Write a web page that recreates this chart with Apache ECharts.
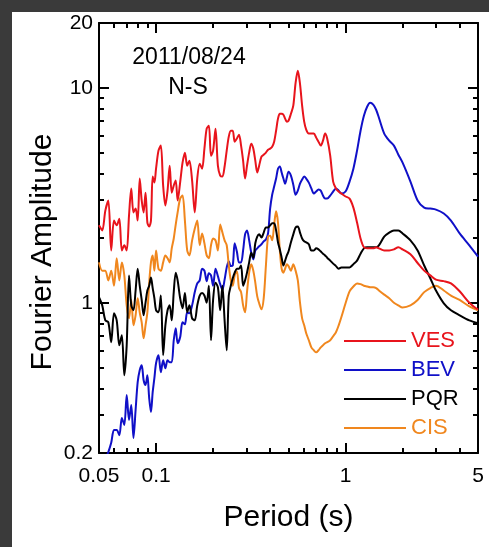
<!DOCTYPE html>
<html>
<head>
<meta charset="utf-8">
<script src="https://cdn.jsdelivr.net/npm/echarts@6/dist/echarts.min.js"></script>
<style>
  html, body { margin: 0; padding: 0; background: #3a3a3a; width: 489px; height: 547px; overflow: hidden; }
  #chart { position: absolute; left: 12px; top: 12px; width: 477px; height: 535px; background: #ffffff; }
</style>
</head>
<body>
<div id="chart"></div>
<script>
// Fourier amplitude spectra, 2011/08/24 event, N-S component
const periods = [
  0.050, 0.052, 0.054, 0.056, 0.058, 0.060, 0.062, 0.064, 0.066, 0.068,
  0.070, 0.072, 0.074, 0.076, 0.078, 0.080, 0.082, 0.084, 0.086, 0.088,
  0.090, 0.092, 0.094, 0.096, 0.098,
  0.100, 0.103, 0.106, 0.109, 0.112, 0.115, 0.118, 0.121, 0.124, 0.127,
  0.130, 0.134, 0.138, 0.142, 0.146, 0.150,
  0.155, 0.160, 0.165, 0.170, 0.175, 0.180, 0.185, 0.190, 0.195,
  0.200, 0.206, 0.212, 0.218, 0.224, 0.230, 0.236, 0.242, 0.248, 0.254,
  0.260, 0.267, 0.274, 0.281, 0.288, 0.295, 0.302, 0.310, 0.318, 0.326,
  0.334, 0.342, 0.350, 0.360, 0.370, 0.380, 0.390, 0.400, 0.410, 0.420,
  0.430, 0.440, 0.450, 0.460, 0.470, 0.480, 0.490, 0.500,
  0.515, 0.530, 0.545, 0.560, 0.575, 0.590, 0.605, 0.620,
  0.640, 0.660, 0.680, 0.700, 0.720, 0.740, 0.760, 0.780, 0.800,
  0.830, 0.860, 0.890, 0.920, 0.950,
  1.00, 1.05, 1.10, 1.15, 1.20, 1.25, 1.30, 1.35, 1.40, 1.45, 1.50,
  1.60, 1.70, 1.80, 1.90, 2.00,
  2.20, 2.40, 2.60, 2.80, 3.00, 3.30, 3.60, 4.00, 4.50, 5.00
];

const ves = [
  2.29, 2.17, 2.68, 2.99, 1.75, 2.41, 2.29, 2.46, 1.75, 1.85,
  1.75, 2.54, 3.40, 2.63, 2.74, 2.41, 3.78, 2.99, 2.63, 3.25,
  2.36, 2.26, 2.41, 3.86, 3.62,
  4.20, 5.10, 5.38, 3.51, 2.83, 3.32, 4.34, 3.25, 3.51, 3.70,
  2.99, 3.62, 4.48, 4.99, 4.34, 4.58,
  3.70, 2.63, 3.78, 4.43, 4.20, 5.21, 6.45, 6.66, 4.83,
  5.10, 6.45, 4.34, 3.90, 3.86, 4.30, 5.10, 5.92, 6.31, 6.31,
  5.61, 5.80, 6.05, 5.38, 4.58, 3.78, 4.34, 4.99, 5.49, 5.21,
  4.58, 4.03, 4.34, 4.78, 4.88, 4.99, 5.15, 5.21, 5.32, 5.61,
  6.31, 7.18, 7.57, 7.57, 7.49, 7.18, 6.95, 7.02,
  7.57, 8.25, 10.54, 11.98, 10.43, 8.25, 6.95, 6.38,
  6.12, 6.12, 6.12, 5.86, 5.61, 5.38, 5.67, 6.12, 5.80,
  4.83, 3.66, 3.40, 3.29, 3.22,
  3.12, 3.05, 2.77, 2.36, 1.99, 1.81, 1.79, 1.79, 1.79, 1.81, 1.79,
  1.75, 1.75, 1.77, 1.81, 1.77,
  1.68, 1.53, 1.41, 1.34, 1.28, 1.26, 1.23, 1.13, 1.00, 0.93
];

const bev = [
  0.167, 0.167, 0.186, 0.202, 0.223, 0.256, 0.256, 0.242, 0.291, 0.270,
  0.372, 0.285, 0.334, 0.235, 0.317, 0.427, 0.485, 0.512, 0.436, 0.414,
  0.460, 0.360, 0.310, 0.384, 0.446,
  0.523, 0.570, 0.475, 0.540, 0.496, 0.540, 0.529, 0.529, 0.669, 0.760,
  0.648, 0.691, 0.811, 0.794, 0.902, 0.893,
  0.972, 1.118, 1.23, 1.27, 1.44, 1.41, 1.26, 1.37, 1.34,
  1.20, 1.44, 1.33, 1.22, 1.15, 1.28, 1.46, 1.56, 1.48, 1.49,
  1.89, 1.73, 1.54, 1.54, 1.75, 2.08, 2.17, 1.95, 1.71, 1.59,
  1.75, 1.79, 1.83, 1.87, 1.93, 1.97, 2.10, 2.74, 3.18, 3.47,
  3.78, 4.20, 4.30, 4.03, 3.78, 3.58, 3.82, 4.07,
  3.90, 3.54, 3.18, 3.32, 3.58, 3.74, 3.86, 3.78,
  3.62, 3.40, 3.22, 3.29, 3.36, 3.32, 3.15, 3.05, 3.05,
  3.15, 3.29, 3.40, 3.32, 3.22,
  3.29, 3.66, 4.20, 5.10, 6.31, 7.41, 8.16, 8.51, 8.34, 7.90, 7.25,
  6.12, 5.67, 5.38, 4.88, 4.48,
  3.66, 2.99, 2.77, 2.74, 2.71, 2.60, 2.41, 2.10, 1.85, 1.64
];

const pqr = [
  1.06, 0.972, 0.828, 0.811, 0.655, 0.893, 0.828, 0.634, 0.706, 0.460,
  0.634, 1.34, 0.972, 0.922, 1.14, 1.44, 1.20, 1.03, 0.874, 1.00,
  1.14, 1.20, 1.31, 1.17, 1.05,
  0.922, 0.902, 1.08, 0.570, 0.785, 0.922, 0.972, 0.828, 1.12, 1.38,
  1.27, 1.05, 0.942, 1.11, 0.902, 0.972,
  0.846, 0.828, 0.972, 1.08, 1.11, 1.08, 1.00, 1.20, 0.669,
  1.03, 1.24, 1.18, 0.922, 1.20, 0.828, 0.601, 1.08, 1.20, 1.30,
  1.38, 1.44, 1.44, 1.49, 1.20, 1.27, 1.38, 1.54, 1.71, 1.62,
  1.89, 2.03, 2.08, 2.01, 2.12, 2.24, 2.24, 2.29, 2.34, 2.34,
  2.17, 1.91, 1.77, 1.62, 1.49, 1.57, 1.66, 1.73,
  1.91, 2.08, 2.24, 2.26, 2.12, 1.99, 1.93, 1.91,
  1.87, 1.75, 1.75, 1.79, 1.77, 1.73, 1.69, 1.66, 1.62,
  1.57, 1.52, 1.48, 1.44, 1.46,
  1.46, 1.46, 1.51, 1.57, 1.69, 1.79, 1.81, 1.81, 1.81, 1.81, 1.85,
  2.03, 2.12, 2.17, 2.17, 2.10,
  1.95, 1.75, 1.49, 1.30, 1.14, 0.994, 0.922, 0.874, 0.828, 0.802
];

const cis = [
  1.54, 1.41, 1.41, 1.27, 1.41, 1.20, 1.61, 1.27, 1.54, 1.34,
  0.972, 0.846, 1.03, 0.785, 0.874, 1.05, 0.902, 0.811, 0.683, 0.785,
  0.902, 1.23, 1.54, 1.66, 1.41,
  1.75, 1.44, 1.41, 1.54, 1.66, 1.61, 1.54, 1.79, 1.99, 2.31,
  2.63, 3.05, 3.15, 2.41, 1.75, 1.66,
  1.95, 2.21, 2.41, 1.85, 2.10, 1.89, 1.66, 1.61, 1.85,
  1.99, 1.95, 1.75, 2.31, 2.12, 1.95, 1.85, 1.49, 1.27, 1.20,
  1.34, 1.40, 1.17, 1.12, 0.972, 0.902, 1.12, 1.38, 1.51, 1.41,
  1.24, 1.07, 0.994, 0.932, 1.05, 1.49, 2.03, 2.05, 1.95, 2.31,
  2.66, 2.36, 1.75, 1.44, 1.38, 1.44, 1.51, 1.48,
  1.41, 1.51, 1.41, 1.27, 1.00, 0.846, 0.785, 0.721,
  0.669, 0.620, 0.601, 0.588, 0.601, 0.620, 0.634, 0.648, 0.655,
  0.669, 0.698, 0.729, 0.785, 0.856,
  0.994, 1.13, 1.19, 1.23, 1.22, 1.20, 1.19, 1.18, 1.18, 1.17, 1.14,
  1.09, 1.05, 1.00, 0.972, 0.951,
  0.972, 1.03, 1.12, 1.17, 1.20, 1.14, 1.08, 1.03, 0.962, 0.922
];

const stations = ['VES', 'BEV', 'PQR', 'CIS'];
const stationColors = { VES: '#e8141c', BEV: '#1010c8', PQR: '#000000', CIS: '#f0871e' };

// axis ranges, minor ticks and decade (long) ticks
const xRange = [0.05, 5];
const yRange = [0.2, 20];
const xMinorTicks = [0.06, 0.07, 0.08, 0.09, 0.2, 0.3, 0.4, 0.5, 0.6, 0.7, 0.8, 0.9, 2, 3, 4];
const xMajorTicks = [0.1, 1];
const yMinorTicks = [0.3, 0.4, 0.5, 0.6, 0.7, 0.8, 0.9, 2, 3, 4, 5, 6, 7, 8, 9];
const yMajorTicks = [1, 10];

const FONT = '"Liberation Sans", Arial, Helvetica, sans-serif';

function pairs(values) {
  return periods.map((p, i) => [p, values[i]]);
}

const seriesValues = { VES: ves, BEV: bev, PQR: pqr, CIS: cis };
const drawOrder = ['BEV', 'CIS', 'PQR', 'VES'];

const tickStyle = { color: '#000', width: 2 };

// log axes: frame lines and labels
function logAxis(range, position, withLabels) {
  return {
    type: 'log', logBase: 10, min: range[0], max: range[1], position: position,
    axisLine: { show: true, onZero: false, lineStyle: { color: '#000', width: 2 } },
    axisTick: { show: false },
    splitLine: { show: false },
    minorTick: { show: false },
    axisLabel: withLabels
      ? { show: true, color: '#000', fontSize: 21, fontFamily: FONT, showMinLabel: true, showMaxLabel: true }
      : { show: false }
  };
}

// companion linear axes in log10 units carrying the inward tick marks at the frame edges
function tickAxis(range, position, ticks, len) {
  return {
    type: 'value', min: Math.log10(range[0]), max: Math.log10(range[1]), position: position,
    offset: 0,
    axisLine: { show: false, onZero: false },
    axisLabel: { show: false },
    splitLine: { show: false },
    axisTick: { show: true, inside: true, length: len, lineStyle: tickStyle, customValues: ticks.map(Math.log10) }
  };
}

const xBottom = logAxis(xRange, 'bottom', true);
xBottom.axisLabel.margin = 13;
xBottom.name = 'Period (s)';
xBottom.nameLocation = 'middle';
xBottom.nameGap = 50;
xBottom.nameTextStyle = { color: '#000', fontSize: 30, fontFamily: FONT };

const yLeft = logAxis(yRange, 'left', true);
yLeft.axisLabel.margin = 6;

const chart = echarts.init(document.getElementById('chart'));

chart.setOption({
  animation: false,
  grid: { left: 87, right: 11, top: 11, bottom: 94 },
  xAxis: [
    xBottom,
    logAxis(xRange, 'top', false),
    tickAxis(xRange, 'bottom', xMinorTicks, 5),
    tickAxis(xRange, 'top', xMinorTicks, 5),
    tickAxis(xRange, 'bottom', xMajorTicks, 10),
    tickAxis(xRange, 'top', xMajorTicks, 10)
  ],
  yAxis: [
    yLeft,
    logAxis(yRange, 'right', false),
    tickAxis(yRange, 'left', yMinorTicks, 5),
    tickAxis(yRange, 'right', yMinorTicks, 5),
    tickAxis(yRange, 'left', yMajorTicks, 10),
    tickAxis(yRange, 'right', yMajorTicks, 10)
  ],
  legend: {
    orient: 'vertical',
    left: 331, top: 318,
    padding: 0,
    itemWidth: 62, itemHeight: 22, itemGap: 7,
    data: stations.map(s => ({ name: s, textStyle: { color: stationColors[s] } })),
    textStyle: { fontSize: 22, fontFamily: FONT },
    itemStyle: { opacity: 0 },
    lineStyle: { width: 2 },
    selectedMode: false
  },
  graphic: {
    elements: [
      {
        type: 'text', silent: true, x: 177, y: 46,
        style: { text: '2011/08/24', fill: '#000', font: '23px ' + FONT, align: 'center', verticalAlign: 'middle' }
      },
      {
        type: 'text', silent: true, x: 176, y: 76,
        style: { text: 'N-S', fill: '#000', font: '23px ' + FONT, align: 'center', verticalAlign: 'middle' }
      },
      {
        type: 'text', silent: true, x: 31, y: 240, rotation: Math.PI / 2,
        style: { text: 'Fourier Amplitude', fill: '#000', font: '30px ' + FONT, align: 'center', verticalAlign: 'middle' }
      }
    ]
  },
  series: drawOrder.map(s => ({
    name: s,
    type: 'line',
    xAxisIndex: 0, yAxisIndex: 0,
    data: pairs(seriesValues[s]),
    symbol: 'none',
    smooth: 0.3,
    clip: true,
    lineStyle: { color: stationColors[s], width: 2 },
    itemStyle: { color: stationColors[s] }
  }))
});
</script>
</body>
</html>
